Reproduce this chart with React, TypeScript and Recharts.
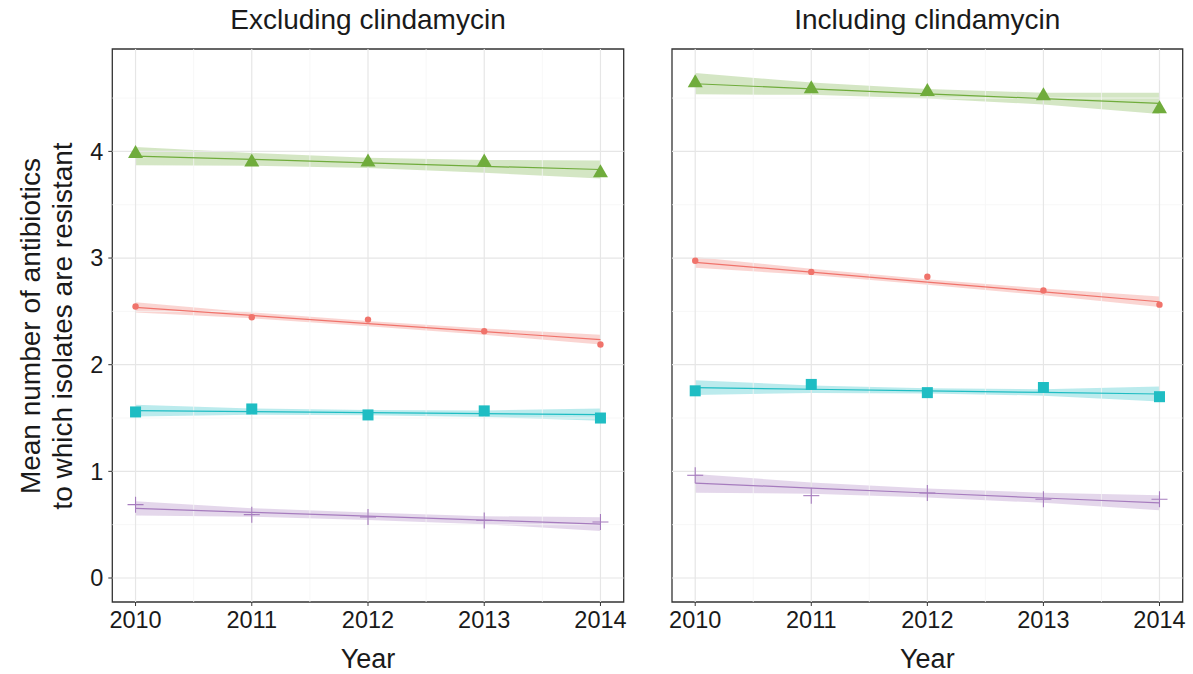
import React from 'react';
import {
  ComposedChart, Area, Line, XAxis, YAxis, ReferenceLine, ReferenceArea,
} from 'recharts';

// years on the x axis, tick values
const years = [2010, 2011, 2012, 2013, 2014];
const yTicks = [0, 1, 2, 3, 4];
const xMinor = [2010.5, 2011.5, 2012.5, 2013.5];
const yMinor = [0.5, 1.5, 2.5, 3.5, 4.5];
const panelTitles = ['Excluding clindamycin', 'Including clindamycin'];

// Excluding clindamycin
const exGreenPts = [3.99, 3.91, 3.91, 3.91, 3.81];
const exGreenFit = [3.955, 3.925, 3.893, 3.86, 3.83];
const exGreenLo = [3.87, 3.865, 3.845, 3.8, 3.745];
const exGreenHi = [4.04, 3.985, 3.94, 3.92, 3.915];

const exRedPts = [2.545, 2.445, 2.423, 2.313, 2.19];
const exRedFit = [2.538, 2.462, 2.386, 2.31, 2.235];
const exRedLo = [2.49, 2.435, 2.36, 2.28, 2.19];
const exRedHi = [2.585, 2.49, 2.41, 2.34, 2.28];

const exCyanPts = [1.557, 1.585, 1.529, 1.567, 1.5];
const exCyanFit = [1.569, 1.56, 1.55, 1.541, 1.532];
const exCyanLo = [1.515, 1.53, 1.525, 1.51, 1.475];
const exCyanHi = [1.625, 1.59, 1.575, 1.57, 1.59];

const exPurplePts = [0.688, 0.594, 0.572, 0.54, 0.525];
const exPurpleFit = [0.653, 0.616, 0.58, 0.543, 0.506];
const exPurpleLo = [0.585, 0.575, 0.545, 0.505, 0.44];
const exPurpleHi = [0.72, 0.655, 0.615, 0.58, 0.57];

// Including clindamycin
const inGreenPts = [4.653, 4.597, 4.57, 4.53, 4.41];
const inGreenFit = [4.634, 4.587, 4.54, 4.495, 4.45];
const inGreenLo = [4.535, 4.53, 4.495, 4.44, 4.35];
const inGreenHi = [4.735, 4.645, 4.585, 4.55, 4.55];

const inRedPts = [2.975, 2.87, 2.825, 2.695, 2.563];
const inRedFit = [2.96, 2.868, 2.775, 2.683, 2.59];
const inRedLo = [2.91, 2.84, 2.75, 2.65, 2.54];
const inRedHi = [3.01, 2.9, 2.8, 2.715, 2.64];

const inCyanPts = [1.755, 1.815, 1.738, 1.786, 1.7];
const inCyanFit = [1.785, 1.77, 1.755, 1.74, 1.725];
const inCyanLo = [1.715, 1.735, 1.73, 1.71, 1.655];
const inCyanHi = [1.855, 1.805, 1.78, 1.77, 1.795];

const inPurplePts = [0.963, 0.772, 0.797, 0.739, 0.739];
const inPurpleFit = [0.89, 0.843, 0.797, 0.75, 0.705];
const inPurpleLo = [0.8, 0.79, 0.755, 0.705, 0.635];
const inPurpleHi = [0.975, 0.895, 0.84, 0.8, 0.775];

const GREEN = '#70ac3c';
const RED = '#f0736b';
const CYAN = '#1fbdc3';
const PURPLE = '#a67cbe';
const FONT = '"Liberation Sans", Arial, Helvetica, sans-serif';

const X_DOMAIN = [2009.8, 2014.2];
const Y_DOMAIN = [-0.225, 4.96];

const buildRows = (sets: number[][]) =>
  years.map((year, i) => ({
    year,
    gPt: sets[0][i], gFit: sets[1][i], gBand: [sets[2][i], sets[3][i]],
    rPt: sets[4][i], rFit: sets[5][i], rBand: [sets[6][i], sets[7][i]],
    cPt: sets[8][i], cFit: sets[9][i], cBand: [sets[10][i], sets[11][i]],
    pPt: sets[12][i], pFit: sets[13][i], pBand: [sets[14][i], sets[15][i]],
  }));

const exRows = buildRows([
  exGreenPts, exGreenFit, exGreenLo, exGreenHi,
  exRedPts, exRedFit, exRedLo, exRedHi,
  exCyanPts, exCyanFit, exCyanLo, exCyanHi,
  exPurplePts, exPurpleFit, exPurpleLo, exPurpleHi,
]);
const inRows = buildRows([
  inGreenPts, inGreenFit, inGreenLo, inGreenHi,
  inRedPts, inRedFit, inRedLo, inRedHi,
  inCyanPts, inCyanFit, inCyanLo, inCyanHi,
  inPurplePts, inPurpleFit, inPurpleLo, inPurpleHi,
]);

// marker shapes
const triangle = (p: any) => (
  <path key={`t${p.index}`} d={`M${p.cx},${p.cy - 7.5} L${p.cx + 7.5},${p.cy + 5.5} L${p.cx - 7.5},${p.cy + 5.5} Z`} fill={GREEN} />
);
const circle = (p: any) => <circle key={`c${p.index}`} cx={p.cx} cy={p.cy} r={3.2} fill={RED} />;
const square = (p: any) => (
  <rect key={`s${p.index}`} x={p.cx - 5.5} y={p.cy - 5.5} width={11} height={11} fill={CYAN} />
);
const plus = (p: any) => (
  <g key={`p${p.index}`} stroke={PURPLE} strokeWidth={1.1}>
    <line x1={p.cx - 8} y1={p.cy} x2={p.cx + 8} y2={p.cy} />
    <line x1={p.cx} y1={p.cy - 8} x2={p.cx} y2={p.cy + 8} />
  </g>
);

const yTitle = () => (
  <g>
    <text x={30} y={326} transform="rotate(-90 30 326)" textAnchor="middle" dominantBaseline="central"
      fontSize={28} fontFamily={FONT} fill="#1a1a1a">Mean number of antibiotics</text>
    <text x={62} y={326} transform="rotate(-90 62 326)" textAnchor="middle" dominantBaseline="central"
      fontSize={28} fontFamily={FONT} fill="#1a1a1a">to which isolates are resistant</text>
  </g>
);

const xTitle = (props: any) => {
  const vb = props.viewBox;
  return (
    <text x={vb.x + vb.width / 2} y={668} textAnchor="middle" fontSize={27} fontFamily={FONT} fill="#1a1a1a">
      Year
    </text>
  );
};

function Panel({ rows, showY, width, marginLeft, marginRight }: any) {
  return (
    <ComposedChart
      width={width}
      height={674}
      data={rows}
      margin={{ top: 49, right: marginRight, bottom: 0, left: marginLeft }}
    >
      <XAxis
        type="number"
        dataKey="year"
        domain={X_DOMAIN}
        ticks={years}
        allowDataOverflow
        axisLine={false}
        tickSize={4}
        tickMargin={5}
        tickLine={{ stroke: '#333333' }}
        tick={{ fontSize: 23.5, fill: '#1a1a1a', fontFamily: FONT }}
        height={72}
        label={{ content: xTitle }}
      />
      <YAxis
        type="number"
        domain={Y_DOMAIN}
        ticks={yTicks}
        allowDataOverflow
        hide={!showY}
        width={112.3}
        axisLine={false}
        tickSize={4}
        tickMargin={5}
        tickLine={{ stroke: '#333333' }}
        tick={{ fontSize: 23.5, fill: '#1a1a1a', fontFamily: FONT }}
        label={showY ? { content: yTitle } : undefined}
      />
      {xMinor.map((v) => (
        <ReferenceLine key={`xm${v}`} x={v} stroke="#f5f5f5" strokeWidth={0.8} />
      ))}
      {yMinor.map((v) => (
        <ReferenceLine key={`ym${v}`} y={v} stroke="#f5f5f5" strokeWidth={0.8} />
      ))}
      {years.map((v) => (
        <ReferenceLine key={`xM${v}`} x={v} stroke="#e6e6e6" strokeWidth={1.2} />
      ))}
      {yTicks.map((v) => (
        <ReferenceLine key={`yM${v}`} y={v} stroke="#e6e6e6" strokeWidth={1.2} />
      ))}

      <Area dataKey="gBand" type="linear" stroke="none" fill={GREEN} fillOpacity={0.3} isAnimationActive={false} />
      <Area dataKey="rBand" type="linear" stroke="none" fill={RED} fillOpacity={0.3} isAnimationActive={false} />
      <Area dataKey="cBand" type="linear" stroke="none" fill={CYAN} fillOpacity={0.3} isAnimationActive={false} />
      <Area dataKey="pBand" type="linear" stroke="none" fill={PURPLE} fillOpacity={0.3} isAnimationActive={false} />

      <Line dataKey="gFit" type="linear" stroke={GREEN} strokeWidth={1.2} dot={false} activeDot={false} isAnimationActive={false} />
      <Line dataKey="rFit" type="linear" stroke={RED} strokeWidth={1.2} dot={false} activeDot={false} isAnimationActive={false} />
      <Line dataKey="cFit" type="linear" stroke={CYAN} strokeWidth={1.2} dot={false} activeDot={false} isAnimationActive={false} />
      <Line dataKey="pFit" type="linear" stroke={PURPLE} strokeWidth={1.2} dot={false} activeDot={false} isAnimationActive={false} />

      <Line dataKey="gPt" stroke="none" dot={triangle} activeDot={false} isAnimationActive={false} />
      <Line dataKey="rPt" stroke="none" dot={circle} activeDot={false} isAnimationActive={false} />
      <Line dataKey="cPt" stroke="none" dot={square} activeDot={false} isAnimationActive={false} />
      <Line dataKey="pPt" stroke="none" dot={plus} activeDot={false} isAnimationActive={false} />

      <ReferenceArea
        x1={X_DOMAIN[0]} x2={X_DOMAIN[1]} y1={Y_DOMAIN[0]} y2={Y_DOMAIN[1]}
        fill="none" stroke="#333333" strokeWidth={1.3} ifOverflow="visible"
      />
    </ComposedChart>
  );
}

const titleStyle = (left: number, width: number): React.CSSProperties => ({
  position: 'absolute', left, top: 5.5, width, textAlign: 'center',
  fontSize: 28, lineHeight: '28px', fontFamily: FONT, color: '#1a1a1a',
});

export default function App() {
  return (
    <div style={{ position: 'absolute', left: 0, top: 0, width: 1193, height: 674, background: '#fff' }}>
      <div style={{ position: 'absolute', left: 0, top: 0 }}>
        <Panel rows={exRows} showY width={640} marginLeft={0} marginRight={16.3} />
      </div>
      <div style={{ position: 'absolute', left: 640, top: 0 }}>
        <Panel rows={inRows} showY={false} width={553} marginLeft={32} marginRight={10.3} />
      </div>
      <div style={titleStyle(112.3, 511.4)}>{panelTitles[0]}</div>
      <div style={titleStyle(672, 510.7)}>{panelTitles[1]}</div>
    </div>
  );
}
